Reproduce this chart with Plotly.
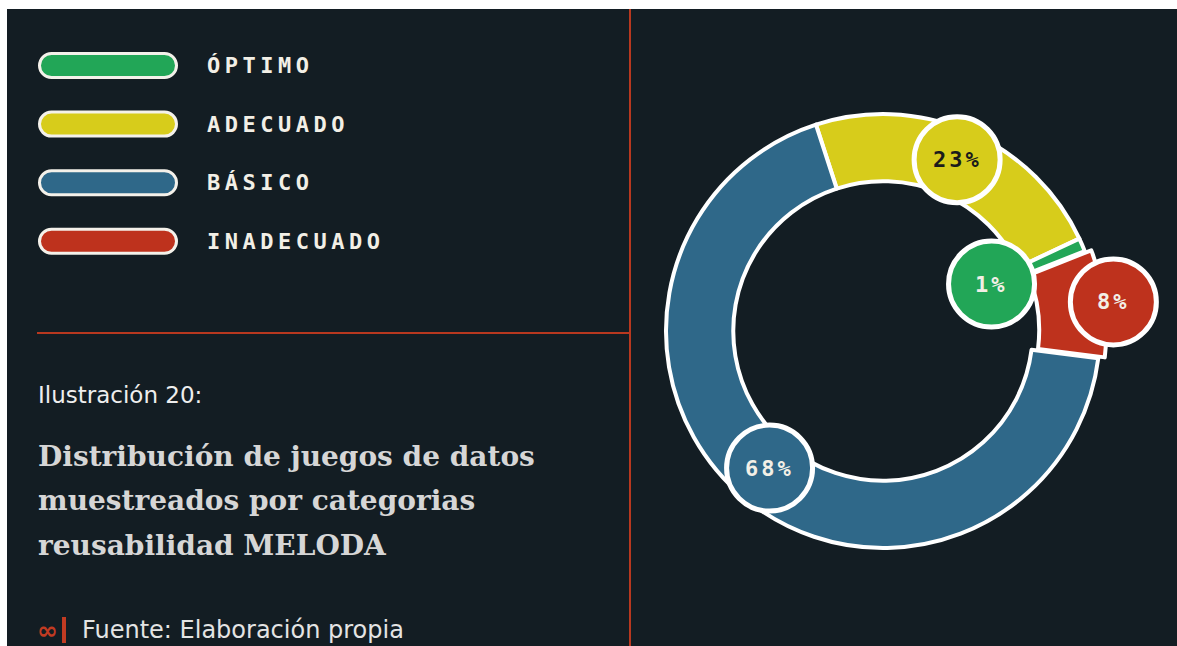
import math
import plotly.graph_objects as go

# ---------------- data ----------------
slice_categories = ["ADECUADO", "ÓPTIMO", "INADECUADO", "BÁSICO"]   # clockwise order
slice_values = [23, 1, 8, 68]
legend_categories = ["ÓPTIMO", "ADECUADO", "BÁSICO", "INADECUADO"]
category_colors = {"ÓPTIMO": "#22a657", "ADECUADO": "#d7cc1b",
                   "BÁSICO": "#2f6889", "INADECUADO": "#be321d"}
label_text_colors = {"ÓPTIMO": "#f2efe6", "ADECUADO": "#1b1b1b",
                     "BÁSICO": "#f2efe6", "INADECUADO": "#f2efe6"}
label_radius_factor = [0.86, 0.545, 1.07, 0.82]
slice_pull = [0, 0, 0.03, 0]

title_lines = ["Distribución de juegos de datos", "muestreados por categorias",
               "reusabilidad MELODA"]
subtitle = "Ilustración 20:"
source = "Fuente: Elaboración propia"

# ---------------- geometry ----------------
W, H = 1177, 646
BG = "#131d23"
RED_LINE = "#b8381f"
cx, cy, r = 883, 331, 217
rotation = -18
Rd = r * (1 + max(slice_pull))
bubble_d = 86

fig = go.Figure()

fig.add_trace(go.Pie(
    labels=slice_categories, values=slice_values, sort=False,
    direction="clockwise", rotation=rotation, hole=0.69,
    pull=slice_pull, textinfo="none", hoverinfo="label+percent",
    marker=dict(colors=[category_colors[c] for c in slice_categories],
                line=dict(color="white", width=4)),
    domain=dict(x=[(cx - Rd) / W, (cx + Rd) / W],
                y=[(H - cy - Rd) / H, (H - cy + Rd) / H]),
    showlegend=False,
))

# invisible pixel-scale axes for overlays
fig.add_trace(go.Scatter(x=[0, W], y=[0, H], mode="markers",
                         marker=dict(opacity=0), hoverinfo="skip", showlegend=False))

shapes = []
annotations = []

# background strips
shapes.append(dict(type="rect", xref="x", yref="y", x0=0, x1=W, y0=0, y1=9,
                   fillcolor="white", line=dict(width=0), layer="below"))
shapes.append(dict(type="rect", xref="x", yref="y", x0=0, x1=7, y0=0, y1=H,
                   fillcolor="white", line=dict(width=0), layer="below"))
# red divider lines
shapes.append(dict(type="line", xref="x", yref="y", x0=630, x1=630, y0=9, y1=H,
                   line=dict(color=RED_LINE, width=2)))
shapes.append(dict(type="line", xref="x", yref="y", x0=37, x1=630, y0=333, y1=333,
                   line=dict(color=RED_LINE, width=2)))

# label bubbles computed from slice angles
total = sum(slice_values)
cum = 0
for cat, v, fac in zip(slice_categories, slice_values, label_radius_factor):
    mid = math.radians(rotation + (cum + v / 2) / total * 360)
    cum += v
    px = cx + fac * r * math.sin(mid)
    py = cy - fac * r * math.cos(mid)
    d = bubble_d
    shapes.append(dict(type="circle", xref="x", yref="y",
                       x0=px - d / 2, x1=px + d / 2, y0=py - d / 2, y1=py + d / 2,
                       fillcolor=category_colors[cat], line=dict(color="white", width=5),
                       layer="above"))
    annotations.append(dict(
        x=px, y=py, xref="x", yref="y", showarrow=False,
        text=f"<span style='letter-spacing:3px'>{v}%</span>",
        font=dict(family="DejaVu Sans Mono", size=22, color=label_text_colors[cat],
                  weight="bold")))

# legend pills
k = 0.5523
x0p, x1p, hh = 39.5, 176.5, 12
for i, cat in enumerate(legend_categories):
    yc = 65.5 + i * 58.6
    rr = hh
    a, b = x0p + rr, x1p - rr
    path = (f"M {a},{yc-rr} L {b},{yc-rr} "
            f"C {b+k*rr},{yc-rr} {x1p},{yc-k*rr} {x1p},{yc} "
            f"C {x1p},{yc+k*rr} {b+k*rr},{yc+rr} {b},{yc+rr} "
            f"L {a},{yc+rr} "
            f"C {a-k*rr},{yc+rr} {x0p},{yc+k*rr} {x0p},{yc} "
            f"C {x0p},{yc-k*rr} {a-k*rr},{yc-rr} {a},{yc-rr} Z")
    shapes.append(dict(type="path", xref="x", yref="y", path=path,
                       fillcolor=category_colors[cat], line=dict(color="#f4f1ea", width=3),
                       layer="above"))
    annotations.append(dict(
        x=205, y=yc, xref="x", yref="y", xanchor="left", yanchor="middle", showarrow=False,
        text=f"<span style='letter-spacing:4.5px'>{cat}</span>",
        font=dict(family="DejaVu Sans Mono", size=22, color="#f2efe6", weight="bold")))

# texts
annotations.append(dict(x=36, y=395, xref="x", yref="y", xanchor="left", yanchor="middle",
                        showarrow=False, text=subtitle,
                        font=dict(family="DejaVu Sans", size=23, color="#eeeeee")))
for i, line in enumerate(title_lines):
    annotations.append(dict(x=36, y=456 + i * 44.5, xref="x", yref="y", xanchor="left",
                            yanchor="middle", showarrow=False, text=f"<b>{line}</b>",
                            font=dict(family="DejaVu Serif", size=28, color="#d6d6d6")))
annotations.append(dict(x=35, y=630, xref="x", yref="y", xanchor="left", yanchor="middle",
                        showarrow=False, text="∞",
                        font=dict(family="DejaVu Sans", size=25, color="#c23b22", weight="bold")))
shapes.append(dict(type="rect", xref="x", yref="y", x0=62, x1=66, y0=617, y1=643,
                   fillcolor="#c23b22", line=dict(width=0)))
annotations.append(dict(x=80, y=630, xref="x", yref="y", xanchor="left", yanchor="middle",
                        showarrow=False, text=source,
                        font=dict(family="DejaVu Sans", size=24, color="#e4e4e4")))

fig.update_layout(
    width=W, height=H, margin=dict(l=0, r=0, t=0, b=0),
    paper_bgcolor=BG, plot_bgcolor="rgba(0,0,0,0)",
    xaxis=dict(range=[0, W], domain=[0, 1], visible=False, fixedrange=True),
    yaxis=dict(range=[H, 0], domain=[0, 1], visible=False, fixedrange=True),
    shapes=shapes, annotations=annotations, showlegend=False,
)

fig.write_html("out.html", config={"displayModeBar": False},
               post_script="document.body.style.margin='0';document.body.style.overflow='hidden';")
